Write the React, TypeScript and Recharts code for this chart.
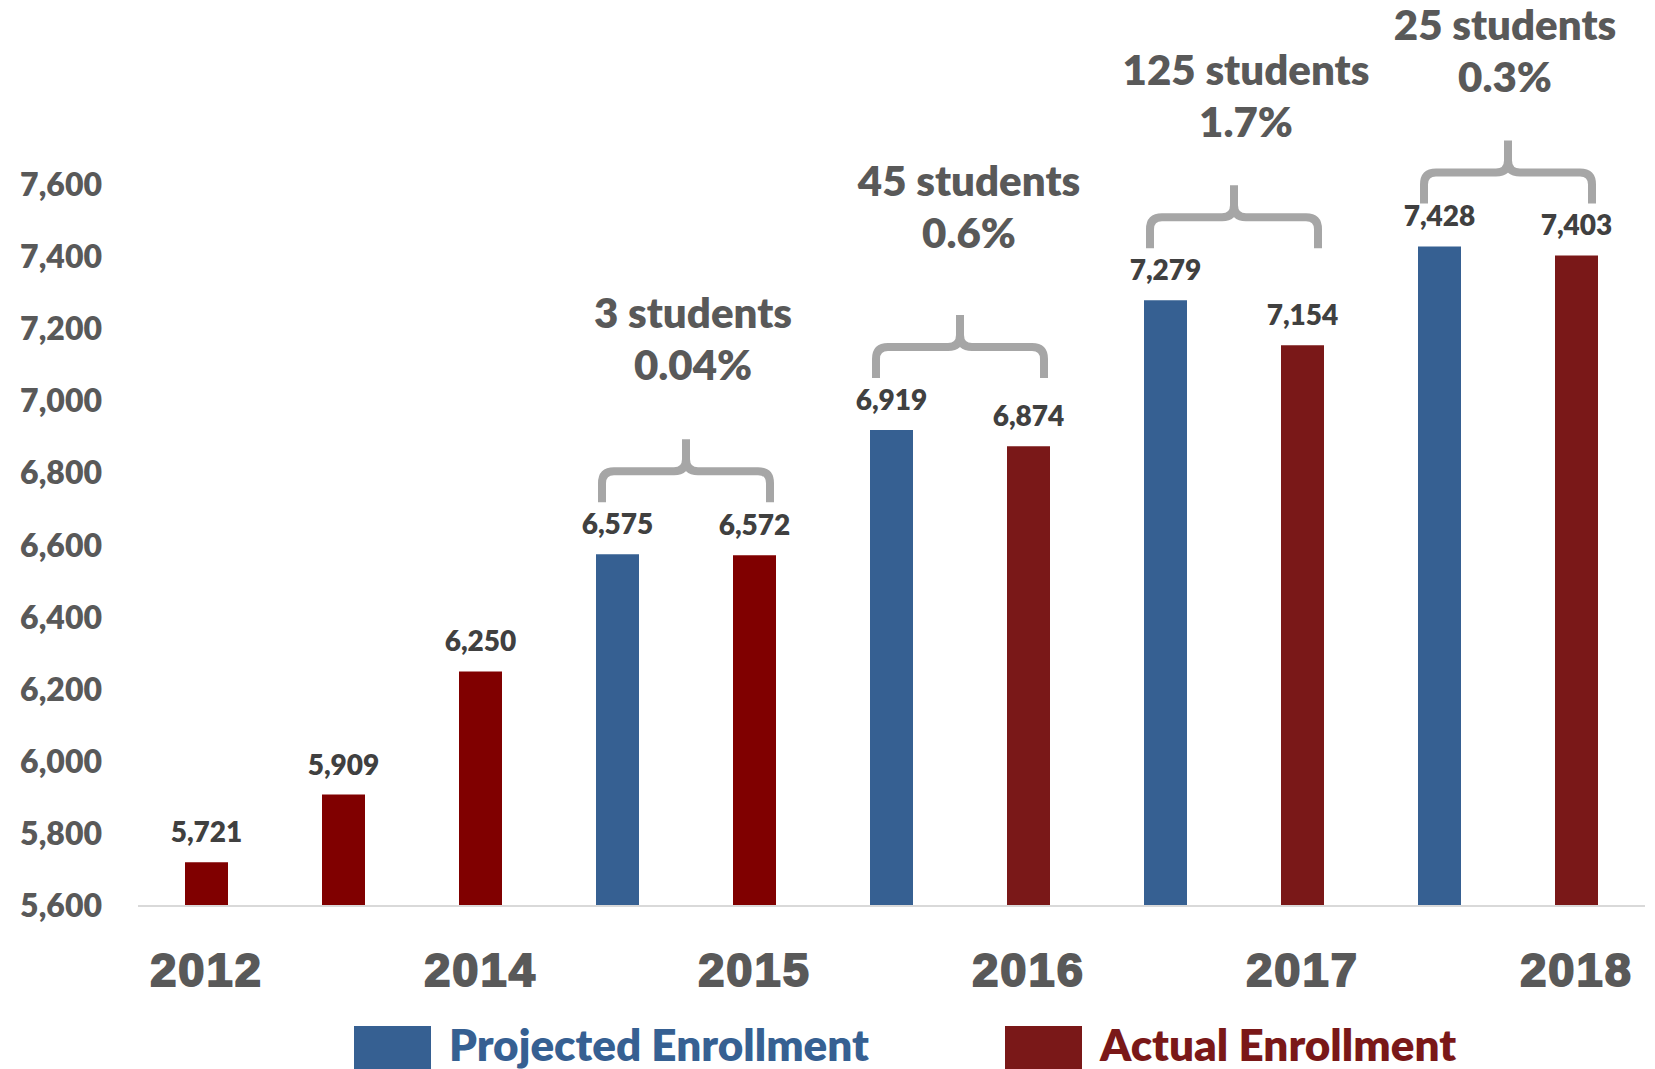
import React from 'react';
import { BarChart, Bar, XAxis, YAxis, Cell, LabelList, ReferenceArea, Customized } from 'recharts';

// ---------- data ----------
const categories = [
  '2012', '2013', '2014', '2015 Projected', '2015', '2016 Projected', '2016',
  '2017 Projected', '2017', '2018 Projected', '2018',
];
const tickLabels = ['2012', '', '2014', '', '2015', '', '2016', '', '2017', '', '2018'];
const enrollment = [5721, 5909, 6250, 6575, 6572, 6919, 6874, 7279, 7154, 7428, 7403];
const seriesType = [
  'actual', 'actual', 'actual', 'projected', 'actual', 'projected', 'actual',
  'projected', 'actual', 'projected', 'actual',
];
const yTicks = [5600, 5800, 6000, 6200, 6400, 6600, 6800, 7000, 7200, 7400, 7600];

const gapProjected = ['2015 Projected', '2016 Projected', '2017 Projected', '2018 Projected'];
const gapActual = ['2015', '2016', '2017', '2018'];
const gapStudents = ['3 students', '45 students', '125 students', '25 students'];
const gapPercents = ['0.04%', '0.6%', '1.7%', '0.3%'];

const legendNames = ['Projected Enrollment', 'Actual Enrollment'];

// ---------- styles / layout ----------
const BLUE = '#366092';
const RED_EARLY = '#800000';
const RED_LATE = '#7A1818';
const BAR_COLORS = [
  RED_EARLY, RED_EARLY, RED_EARLY, BLUE, RED_EARLY, BLUE, RED_LATE, BLUE, RED_LATE, BLUE, RED_LATE,
];
const BRACE_LIFT = [52, 52, 52, 43];
const TEXT_GAP = [59, 67, 48, 48];
const TEXT_DX = [7, 9, 12, -3];
const FONT = 'Lato, "Open Sans", sans-serif';
const W = 800;

const data = categories.map((c, i) => ({ category: c, value: enrollment[i], type: seriesType[i] }));

const makeBrace = (i: number) => (props: any) => {
  const { x, y, width } = props;
  if (x == null || y == null || width == null) return null;
  const mid = x + width / 2;
  const bottom = y - BRACE_LIFT[i];
  const top = bottom - 63;
  const h = bottom - 31;
  const L = mid - 84;
  const R = mid + 84;
  const r = 12;
  const d =
    `M${L},${bottom} L${L},${h + r} Q${L},${h} ${L + r},${h} L${mid - r},${h} Q${mid},${h} ${mid},${h - r} L${mid},${top} ` +
    `M${R},${bottom} L${R},${h + r} Q${R},${h} ${R - r},${h} L${mid + r},${h} Q${mid},${h} ${mid},${h - r}`;
  const t2 = top - TEXT_GAP[i];
  const tx = mid + TEXT_DX[i];
  return (
    <g>
      <path d={d} fill="none" stroke="#A6A6A6" strokeWidth={8} />
      <text x={tx} y={t2 - 52} textAnchor="middle" fill="#595959" fontSize={42} fontWeight={W} fontFamily={FONT}>
        {gapStudents[i]}
      </text>
      <text x={tx} y={t2} textAnchor="middle" fill="#595959" fontSize={42} fontWeight={W} fontFamily={FONT}>
        {gapPercents[i]}
      </text>
    </g>
  );
};

const LegendBlock = () => (
  <g>
    <rect x={354} y={1026} width={77} height={43} fill={BLUE} />
    <text x={449} y={1061} fill={BLUE} fontSize={44} fontWeight={W} fontFamily={FONT}>
      {legendNames[0]}
    </text>
    <rect x={1005} y={1026} width={77} height={43} fill={RED_LATE} />
    <text x={1100} y={1061} fill={RED_LATE} fontSize={44} fontWeight={W} fontFamily={FONT}>
      {legendNames[1]}
    </text>
  </g>
);

export default function App() {
  return (
    <div style={{ position: 'absolute', left: 0, top: 0, width: 1655, height: 1069, background: '#fff' }}>
      <BarChart
        width={1655}
        height={1069}
        data={data}
        margin={{ top: 40, right: 10, bottom: 0, left: 0 }}
      >
        <XAxis
          dataKey="category"
          interval={0}
          height={163}
          tickLine={false}
          tickSize={0}
          tickMargin={47}
          axisLine={{ stroke: '#D9D9D9', strokeWidth: 2 }}
          tickFormatter={(_v: any, i: number) => tickLabels[i]}
          tick={{
            fill: '#595959',
            stroke: '#595959',
            strokeWidth: 2,
            fontSize: 47,
            fontWeight: 700,
            letterSpacing: 2,
            fontFamily: '"Liberation Sans", Arial, sans-serif',
          }}
        />
        <YAxis
          type="number"
          domain={[5600, 8000]}
          ticks={yTicks}
          width={138}
          axisLine={false}
          tickLine={false}
          tickSize={0}
          tickMargin={36}
          tickFormatter={(v: number) => v.toLocaleString('en-US')}
          tick={{ fill: '#595959', fontSize: 32, fontWeight: W, fontFamily: FONT }}
        />
        <Bar dataKey="value" barSize={43} isAnimationActive={false}>
          {data.map((d, i) => (
            <Cell key={d.category} fill={BAR_COLORS[i]} />
          ))}
          <LabelList
            dataKey="value"
            position="top"
            offset={20}
            formatter={(v: any) => Number(v).toLocaleString('en-US')}
            fill="#404040"
            fontSize={28}
            fontWeight={W}
            fontFamily={FONT}
          />
        </Bar>
        {gapProjected.map((p, i) => (
          <ReferenceArea
            key={p}
            x1={p}
            x2={gapActual[i]}
            y1={5600}
            y2={Math.max(enrollment[categories.indexOf(p)], enrollment[categories.indexOf(gapActual[i])])}
            ifOverflow="visible"
            shape={makeBrace(i)}
          />
        ))}
        <Customized component={LegendBlock} />
      </BarChart>
    </div>
  );
}
